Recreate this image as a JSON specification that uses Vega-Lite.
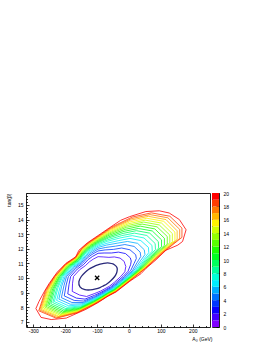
{
"$schema": "https://vega.github.io/schema/vega-lite/v6.json",
"background": "white",
"padding": {"left": 5, "top": 190, "right": 10, "bottom": 2},
"bounds": "flush",
"spacing": 2,
"config": {
 "view": {"stroke": "#222", "strokeWidth": 1},
 "font": "Liberation Sans",
 "axis": {"labelFont": "Liberation Sans", "titleFont": "Liberation Sans", "labelColor": "#000", "titleColor": "#000", "tickColor": "#000", "grid": false, "domain": false, "labelOverlap": false, "labelFontSize": 5, "titleFontSize": 5, "titleFontWeight": "normal", "tickWidth": 0.8, "labelFlush": false}
},
"datasets": {
 "m": [{"x": -100, "y": 10}],
 "bar": [{"k":1,"lo":0,"hi":1},{"k":2,"lo":1,"hi":2},{"k":3,"lo":2,"hi":3},{"k":4,"lo":3,"hi":4},{"k":5,"lo":4,"hi":5},{"k":6,"lo":5,"hi":6},{"k":7,"lo":6,"hi":7},{"k":8,"lo":7,"hi":8},{"k":9,"lo":8,"hi":9},{"k":10,"lo":9,"hi":10},{"k":11,"lo":10,"hi":11},{"k":12,"lo":11,"hi":12},{"k":13,"lo":12,"hi":13},{"k":14,"lo":13,"hi":14},{"k":15,"lo":14,"hi":15},{"k":16,"lo":15,"hi":16},{"k":17,"lo":16,"hi":17},{"k":18,"lo":17,"hi":18},{"k":19,"lo":18,"hi":19},{"k":20,"lo":19,"hi":20}],
 "c": [
{"k":1,"i":0,"x":-44.8,"y":10.10},{"k":1,"i":1,"x":-39.2,"y":10.32},{"k":1,"i":2,"x":-36.8,"y":10.58},{"k":1,"i":2.5,"x":-37.8,"y":10.71},{"k":1,"i":3,"x":-40.7,"y":10.81},{"k":1,"i":4,"x":-50.1,"y":10.96},{"k":1,"i":5,"x":-61.9,"y":11.02},{"k":1,"i":6,"x":-72.9,"y":11.02},{"k":1,"i":7,"x":-86.5,"y":10.97},{"k":1,"i":8,"x":-97.2,"y":10.90},{"k":1,"i":9,"x":-106.1,"y":10.83},{"k":1,"i":10,"x":-114.1,"y":10.74},{"k":1,"i":11,"x":-124.8,"y":10.61},{"k":1,"i":12,"x":-136.4,"y":10.41},{"k":1,"i":13,"x":-149.6,"y":10.10},{"k":1,"i":14,"x":-157.2,"y":9.75},{"k":1,"i":15,"x":-153.7,"y":9.39},{"k":1,"i":16,"x":-138.4,"y":9.20},{"k":1,"i":17,"x":-121.5,"y":9.18},{"k":1,"i":18,"x":-104.1,"y":9.25},{"k":1,"i":19,"x":-91.1,"y":9.34},{"k":1,"i":20,"x":-80.3,"y":9.46},{"k":1,"i":21,"x":-69.6,"y":9.59},{"k":1,"i":22,"x":-58.0,"y":9.79},
{"k":2,"i":0,"x":-26,"y":10.1},{"k":2,"i":1,"x":-13,"y":10.42},{"k":2,"i":2,"x":-10,"y":10.79},{"k":2,"i":2.5,"x":-13,"y":10.97},{"k":2,"i":3,"x":-15,"y":11.13},{"k":2,"i":4,"x":-28,"y":11.36},{"k":2,"i":5,"x":-46,"y":11.44},{"k":2,"i":6,"x":-63,"y":11.41},{"k":2,"i":7,"x":-81,"y":11.44},{"k":2,"i":8,"x":-97,"y":11.46},{"k":2,"i":9,"x":-112,"y":11.29},{"k":2,"i":10,"x":-124,"y":11.11},{"k":2,"i":11,"x":-137,"y":10.84},{"k":2,"i":12,"x":-155,"y":10.56},{"k":2,"i":13,"x":-174,"y":10.1},{"k":2,"i":14,"x":-177,"y":9.64},{"k":2,"i":15,"x":-178,"y":9.08},{"k":2,"i":16,"x":-155,"y":8.83},{"k":2,"i":17,"x":-133,"y":8.73},{"k":2,"i":18,"x":-107,"y":8.94},{"k":2,"i":19,"x":-89,"y":9.10},{"k":2,"i":20,"x":-75,"y":9.27},{"k":2,"i":21,"x":-61,"y":9.44},{"k":2,"i":22,"x":-46,"y":9.70},
{"k":3,"i":0,"x":-19,"y":10.1},{"k":3,"i":1,"x":-3,"y":10.46},{"k":3,"i":2,"x":5,"y":10.91},{"k":3,"i":2.5,"x":7,"y":11.16},{"k":3,"i":3,"x":4,"y":11.38},{"k":3,"i":4,"x":-11,"y":11.67},{"k":3,"i":5,"x":-33,"y":11.77},{"k":3,"i":6,"x":-55,"y":11.71},{"k":3,"i":7,"x":-78,"y":11.71},{"k":3,"i":8,"x":-97,"y":11.69},{"k":3,"i":9,"x":-114,"y":11.48},{"k":3,"i":10,"x":-128,"y":11.26},{"k":3,"i":11,"x":-142,"y":10.93},{"k":3,"i":12,"x":-162,"y":10.61},{"k":3,"i":13,"x":-183,"y":10.1},{"k":3,"i":14,"x":-188,"y":9.57},{"k":3,"i":15,"x":-192,"y":8.91},{"k":3,"i":16,"x":-165,"y":8.62},{"k":3,"i":17,"x":-138,"y":8.55},{"k":3,"i":18,"x":-108,"y":8.81},{"k":3,"i":19,"x":-88,"y":9.01},{"k":3,"i":20,"x":-73,"y":9.20},{"k":3,"i":21,"x":-58,"y":9.38},{"k":3,"i":22,"x":-42,"y":9.66},
{"k":4,"i":0,"x":-14,"y":10.1},{"k":4,"i":1,"x":5,"y":10.49},{"k":4,"i":2,"x":16,"y":11.00},{"k":4,"i":2.5,"x":23,"y":11.33},{"k":4,"i":3,"x":21,"y":11.59},{"k":4,"i":4,"x":3,"y":11.93},{"k":4,"i":5,"x":-23,"y":12.05},{"k":4,"i":6,"x":-48,"y":11.96},{"k":4,"i":7,"x":-75,"y":11.92},{"k":4,"i":8,"x":-97,"y":11.85},{"k":4,"i":9,"x":-116,"y":11.61},{"k":4,"i":10,"x":-131,"y":11.37},{"k":4,"i":11,"x":-146,"y":11.00},{"k":4,"i":12,"x":-167,"y":10.66},{"k":4,"i":13,"x":-190,"y":10.1},{"k":4,"i":14,"x":-197,"y":9.52},{"k":4,"i":15,"x":-203,"y":8.77},{"k":4,"i":16,"x":-172,"y":8.46},{"k":4,"i":17,"x":-142,"y":8.42},{"k":4,"i":18,"x":-108,"y":8.72},{"k":4,"i":19,"x":-88,"y":8.94},{"k":4,"i":20,"x":-72,"y":9.15},{"k":4,"i":21,"x":-56,"y":9.34},{"k":4,"i":22,"x":-38,"y":9.63},
{"k":5,"i":0,"x":-9,"y":10.1},{"k":5,"i":1,"x":11,"y":10.51},{"k":5,"i":2,"x":26,"y":11.08},{"k":5,"i":2.5,"x":37,"y":11.47},{"k":5,"i":3,"x":35,"y":11.77},{"k":5,"i":4,"x":16,"y":12.16},{"k":5,"i":5,"x":-13,"y":12.29},{"k":5,"i":6,"x":-42,"y":12.18},{"k":5,"i":7,"x":-73,"y":12.09},{"k":5,"i":8,"x":-97,"y":11.98},{"k":5,"i":9,"x":-117,"y":11.71},{"k":5,"i":10,"x":-133,"y":11.45},{"k":5,"i":11,"x":-149,"y":11.05},{"k":5,"i":12,"x":-171,"y":10.69},{"k":5,"i":13,"x":-196,"y":10.1},{"k":5,"i":14,"x":-204,"y":9.47},{"k":5,"i":15,"x":-212,"y":8.65},{"k":5,"i":16,"x":-179,"y":8.32},{"k":5,"i":17,"x":-144,"y":8.32},{"k":5,"i":18,"x":-109,"y":8.65},{"k":5,"i":19,"x":-87,"y":8.89},{"k":5,"i":20,"x":-71,"y":9.10},{"k":5,"i":21,"x":-54,"y":9.30},{"k":5,"i":22,"x":-36,"y":9.61},
{"k":6,"i":0,"x":-6,"y":10.1},{"k":6,"i":1,"x":16,"y":10.53},{"k":6,"i":2,"x":35,"y":11.15},{"k":6,"i":2.5,"x":50,"y":11.60},{"k":6,"i":3,"x":48,"y":11.93},{"k":6,"i":4,"x":27,"y":12.37},{"k":6,"i":5,"x":-5,"y":12.50},{"k":6,"i":6,"x":-37,"y":12.38},{"k":6,"i":7,"x":-71,"y":12.25},{"k":6,"i":8,"x":-97,"y":12.09},{"k":6,"i":9,"x":-118,"y":11.80},{"k":6,"i":10,"x":-135,"y":11.52},{"k":6,"i":11,"x":-151,"y":11.09},{"k":6,"i":12,"x":-175,"y":10.72},{"k":6,"i":13,"x":-200,"y":10.1},{"k":6,"i":14,"x":-211,"y":9.44},{"k":6,"i":15,"x":-220,"y":8.55},{"k":6,"i":16,"x":-184,"y":8.20},{"k":6,"i":17,"x":-147,"y":8.23},{"k":6,"i":18,"x":-109,"y":8.59},{"k":6,"i":19,"x":-87,"y":8.84},{"k":6,"i":20,"x":-70,"y":9.07},{"k":6,"i":21,"x":-52,"y":9.27},{"k":6,"i":22,"x":-33,"y":9.59},
{"k":7,"i":0,"x":-3,"y":10.1},{"k":7,"i":1,"x":21,"y":10.55},{"k":7,"i":2,"x":43,"y":11.21},{"k":7,"i":2.5,"x":62,"y":11.73},{"k":7,"i":3,"x":61,"y":12.09},{"k":7,"i":4,"x":37,"y":12.56},{"k":7,"i":5,"x":3,"y":12.71},{"k":7,"i":6,"x":-32,"y":12.56},{"k":7,"i":7,"x":-69,"y":12.38},{"k":7,"i":8,"x":-97,"y":12.18},{"k":7,"i":9,"x":-119,"y":11.88},{"k":7,"i":10,"x":-136,"y":11.58},{"k":7,"i":11,"x":-153,"y":11.13},{"k":7,"i":12,"x":-178,"y":10.74},{"k":7,"i":13,"x":-204,"y":10.1},{"k":7,"i":14,"x":-216,"y":9.40},{"k":7,"i":15,"x":-227,"y":8.46},{"k":7,"i":16,"x":-189,"y":8.09},{"k":7,"i":17,"x":-149,"y":8.16},{"k":7,"i":18,"x":-110,"y":8.53},{"k":7,"i":19,"x":-87,"y":8.80},{"k":7,"i":20,"x":-69,"y":9.04},{"k":7,"i":21,"x":-51,"y":9.25},{"k":7,"i":22,"x":-32,"y":9.58},
{"k":8,"i":0,"x":0,"y":10.1},{"k":8,"i":1,"x":25,"y":10.57},{"k":8,"i":2,"x":50,"y":11.27},{"k":8,"i":2.5,"x":73,"y":11.84},{"k":8,"i":3,"x":72,"y":12.23},{"k":8,"i":4,"x":47,"y":12.74},{"k":8,"i":5,"x":10,"y":12.90},{"k":8,"i":6,"x":-28,"y":12.74},{"k":8,"i":7,"x":-68,"y":12.51},{"k":8,"i":8,"x":-97,"y":12.26},{"k":8,"i":9,"x":-120,"y":11.95},{"k":8,"i":10,"x":-138,"y":11.64},{"k":8,"i":11,"x":-155,"y":11.17},{"k":8,"i":12,"x":-181,"y":10.76},{"k":8,"i":13,"x":-208,"y":10.1},{"k":8,"i":14,"x":-222,"y":9.37},{"k":8,"i":15,"x":-234,"y":8.38},{"k":8,"i":16,"x":-194,"y":7.99},{"k":8,"i":17,"x":-150,"y":8.09},{"k":8,"i":18,"x":-110,"y":8.49},{"k":8,"i":19,"x":-87,"y":8.77},{"k":8,"i":20,"x":-68,"y":9.01},{"k":8,"i":21,"x":-50,"y":9.22},{"k":8,"i":22,"x":-30,"y":9.56},
{"k":9,"i":0,"x":2,"y":10.1},{"k":9,"i":1,"x":28,"y":10.58},{"k":9,"i":2,"x":56,"y":11.32},{"k":9,"i":2.5,"x":83,"y":11.95},{"k":9,"i":3,"x":82,"y":12.36},{"k":9,"i":4,"x":56,"y":12.91},{"k":9,"i":5,"x":17,"y":13.07},{"k":9,"i":6,"x":-23,"y":12.90},{"k":9,"i":7,"x":-66,"y":12.62},{"k":9,"i":8,"x":-97,"y":12.34},{"k":9,"i":9,"x":-121,"y":12.01},{"k":9,"i":10,"x":-139,"y":11.69},{"k":9,"i":11,"x":-157,"y":11.20},{"k":9,"i":12,"x":-183,"y":10.78},{"k":9,"i":13,"x":-211,"y":10.1},{"k":9,"i":14,"x":-226,"y":9.35},{"k":9,"i":15,"x":-239,"y":8.31},{"k":9,"i":16,"x":-198,"y":7.90},{"k":9,"i":17,"x":-152,"y":8.03},{"k":9,"i":18,"x":-111,"y":8.44},{"k":9,"i":19,"x":-86,"y":8.73},{"k":9,"i":20,"x":-68,"y":8.98},{"k":9,"i":21,"x":-49,"y":9.20},{"k":9,"i":22,"x":-28,"y":9.55},
{"k":10,"i":0,"x":5,"y":10.1},{"k":10,"i":1,"x":31,"y":10.59},{"k":10,"i":2,"x":62,"y":11.37},{"k":10,"i":2.5,"x":93,"y":12.05},{"k":10,"i":3,"x":92,"y":12.49},{"k":10,"i":4,"x":65,"y":13.07},{"k":10,"i":5,"x":23,"y":13.24},{"k":10,"i":6,"x":-19,"y":13.05},{"k":10,"i":7,"x":-65,"y":12.73},{"k":10,"i":8,"x":-97,"y":12.41},{"k":10,"i":9,"x":-121,"y":12.07},{"k":10,"i":10,"x":-140,"y":11.73},{"k":10,"i":11,"x":-158,"y":11.22},{"k":10,"i":12,"x":-185,"y":10.80},{"k":10,"i":13,"x":-214,"y":10.1},{"k":10,"i":14,"x":-231,"y":9.32},{"k":10,"i":15,"x":-245,"y":8.24},{"k":10,"i":16,"x":-202,"y":7.82},{"k":10,"i":17,"x":-153,"y":7.97},{"k":10,"i":18,"x":-111,"y":8.41},{"k":10,"i":19,"x":-86,"y":8.70},{"k":10,"i":20,"x":-67,"y":8.96},{"k":10,"i":21,"x":-48,"y":9.19},{"k":10,"i":22,"x":-27,"y":9.54},
{"k":11,"i":0,"x":7,"y":10.1},{"k":11,"i":1,"x":34,"y":10.60},{"k":11,"i":2,"x":68,"y":11.41},{"k":11,"i":2.5,"x":102,"y":12.14},{"k":11,"i":3,"x":102,"y":12.61},{"k":11,"i":4,"x":73,"y":13.22},{"k":11,"i":5,"x":29,"y":13.39},{"k":11,"i":6,"x":-16,"y":13.19},{"k":11,"i":7,"x":-64,"y":12.82},{"k":11,"i":8,"x":-97,"y":12.47},{"k":11,"i":9,"x":-122,"y":12.12},{"k":11,"i":10,"x":-141,"y":11.77},{"k":11,"i":11,"x":-160,"y":11.25},{"k":11,"i":12,"x":-187,"y":10.82},{"k":11,"i":13,"x":-217,"y":10.1},{"k":11,"i":14,"x":-235,"y":9.30},{"k":11,"i":15,"x":-250,"y":8.17},{"k":11,"i":16,"x":-205,"y":7.74},{"k":11,"i":17,"x":-155,"y":7.92},{"k":11,"i":18,"x":-111,"y":8.37},{"k":11,"i":19,"x":-86,"y":8.68},{"k":11,"i":20,"x":-67,"y":8.94},{"k":11,"i":21,"x":-47,"y":9.17},{"k":11,"i":22,"x":-26,"y":9.53},
{"k":12,"i":0,"x":9,"y":10.1},{"k":12,"i":1,"x":37,"y":10.61},{"k":12,"i":2,"x":73,"y":11.45},{"k":12,"i":2.5,"x":111,"y":12.23},{"k":12,"i":3,"x":111,"y":12.72},{"k":12,"i":4,"x":81,"y":13.36},{"k":12,"i":5,"x":35,"y":13.55},{"k":12,"i":6,"x":-12,"y":13.33},{"k":12,"i":7,"x":-63,"y":12.92},{"k":12,"i":8,"x":-97,"y":12.53},{"k":12,"i":9,"x":-123,"y":12.17},{"k":12,"i":10,"x":-142,"y":11.81},{"k":12,"i":11,"x":-161,"y":11.27},{"k":12,"i":12,"x":-189,"y":10.83},{"k":12,"i":13,"x":-219,"y":10.1},{"k":12,"i":14,"x":-239,"y":9.27},{"k":12,"i":15,"x":-255,"y":8.11},{"k":12,"i":16,"x":-209,"y":7.67},{"k":12,"i":17,"x":-156,"y":7.87},{"k":12,"i":18,"x":-111,"y":8.34},{"k":12,"i":19,"x":-86,"y":8.65},{"k":12,"i":20,"x":-66,"y":8.92},{"k":12,"i":21,"x":-46,"y":9.15},{"k":12,"i":22,"x":-24,"y":9.52},
{"k":13,"i":0,"x":11,"y":10.1},{"k":13,"i":1,"x":40,"y":10.62},{"k":13,"i":2,"x":78,"y":11.49},{"k":13,"i":2.5,"x":120,"y":12.32},{"k":13,"i":3,"x":120,"y":12.84},{"k":13,"i":4,"x":88,"y":13.50},{"k":13,"i":5,"x":41,"y":13.69},{"k":13,"i":6,"x":-8,"y":13.47},{"k":13,"i":7,"x":-62,"y":13.01},{"k":13,"i":8,"x":-97,"y":12.59},{"k":13,"i":9,"x":-123,"y":12.21},{"k":13,"i":10,"x":-143,"y":11.85},{"k":13,"i":11,"x":-162,"y":11.30},{"k":13,"i":12,"x":-191,"y":10.85},{"k":13,"i":13,"x":-222,"y":10.1},{"k":13,"i":14,"x":-243,"y":9.25},{"k":13,"i":15,"x":-260,"y":8.05},{"k":13,"i":16,"x":-212,"y":7.60},{"k":13,"i":17,"x":-157,"y":7.83},{"k":13,"i":18,"x":-112,"y":8.31},{"k":13,"i":19,"x":-85,"y":8.63},{"k":13,"i":20,"x":-66,"y":8.90},{"k":13,"i":21,"x":-45,"y":9.14},{"k":13,"i":22,"x":-23,"y":9.51},
{"k":14,"i":0,"x":12,"y":10.1},{"k":14,"i":1,"x":42,"y":10.63},{"k":14,"i":2,"x":83,"y":11.53},{"k":14,"i":2.5,"x":128,"y":12.41},{"k":14,"i":3,"x":128,"y":12.94},{"k":14,"i":4,"x":95,"y":13.63},{"k":14,"i":5,"x":46,"y":13.83},{"k":14,"i":6,"x":-5,"y":13.59},{"k":14,"i":7,"x":-61,"y":13.09},{"k":14,"i":8,"x":-97,"y":12.64},{"k":14,"i":9,"x":-124,"y":12.26},{"k":14,"i":10,"x":-144,"y":11.89},{"k":14,"i":11,"x":-163,"y":11.32},{"k":14,"i":12,"x":-193,"y":10.86},{"k":14,"i":13,"x":-224,"y":10.1},{"k":14,"i":14,"x":-246,"y":9.23},{"k":14,"i":15,"x":-264,"y":8.00},{"k":14,"i":16,"x":-215,"y":7.53},{"k":14,"i":17,"x":-158,"y":7.79},{"k":14,"i":18,"x":-112,"y":8.28},{"k":14,"i":19,"x":-85,"y":8.61},{"k":14,"i":20,"x":-65,"y":8.88},{"k":14,"i":21,"x":-44,"y":9.12},{"k":14,"i":22,"x":-22,"y":9.50},
{"k":15,"i":0,"x":14,"y":10.1},{"k":15,"i":1,"x":44,"y":10.64},{"k":15,"i":2,"x":87,"y":11.57},{"k":15,"i":2.5,"x":136,"y":12.48},{"k":15,"i":3,"x":136,"y":13.04},{"k":15,"i":4,"x":102,"y":13.76},{"k":15,"i":5,"x":51,"y":13.96},{"k":15,"i":6,"x":-2,"y":13.71},{"k":15,"i":7,"x":-60,"y":13.17},{"k":15,"i":8,"x":-97,"y":12.69},{"k":15,"i":9,"x":-124,"y":12.30},{"k":15,"i":10,"x":-145,"y":11.92},{"k":15,"i":11,"x":-164,"y":11.34},{"k":15,"i":12,"x":-195,"y":10.87},{"k":15,"i":13,"x":-226,"y":10.1},{"k":15,"i":14,"x":-250,"y":9.21},{"k":15,"i":15,"x":-268,"y":7.94},{"k":15,"i":16,"x":-218,"y":7.47},{"k":15,"i":17,"x":-159,"y":7.75},{"k":15,"i":18,"x":-112,"y":8.25},{"k":15,"i":19,"x":-85,"y":8.59},{"k":15,"i":20,"x":-65,"y":8.87},{"k":15,"i":21,"x":-44,"y":9.11},{"k":15,"i":22,"x":-21,"y":9.50},
{"k":16,"i":0,"x":16,"y":10.1},{"k":16,"i":1,"x":46,"y":10.65},{"k":16,"i":2,"x":92,"y":11.60},{"k":16,"i":2.5,"x":144,"y":12.56},{"k":16,"i":3,"x":144,"y":13.14},{"k":16,"i":4,"x":109,"y":13.88},{"k":16,"i":5,"x":56,"y":14.09},{"k":16,"i":6,"x":1,"y":13.83},{"k":16,"i":7,"x":-59,"y":13.25},{"k":16,"i":8,"x":-97,"y":12.74},{"k":16,"i":9,"x":-125,"y":12.34},{"k":16,"i":10,"x":-146,"y":11.95},{"k":16,"i":11,"x":-166,"y":11.36},{"k":16,"i":12,"x":-196,"y":10.88},{"k":16,"i":13,"x":-228,"y":10.1},{"k":16,"i":14,"x":-253,"y":9.19},{"k":16,"i":15,"x":-272,"y":7.89},{"k":16,"i":16,"x":-221,"y":7.40},{"k":16,"i":17,"x":-160,"y":7.71},{"k":16,"i":18,"x":-112,"y":8.22},{"k":16,"i":19,"x":-85,"y":8.57},{"k":16,"i":20,"x":-64,"y":8.85},{"k":16,"i":21,"x":-43,"y":9.10},{"k":16,"i":22,"x":-20,"y":9.49},
{"k":17,"i":0,"x":17,"y":10.1},{"k":17,"i":1,"x":49,"y":10.66},{"k":17,"i":2,"x":96,"y":11.64},{"k":17,"i":2.5,"x":151,"y":12.64},{"k":17,"i":3,"x":151,"y":13.23},{"k":17,"i":4,"x":116,"y":14.00},{"k":17,"i":5,"x":61,"y":14.22},{"k":17,"i":6,"x":4,"y":13.95},{"k":17,"i":7,"x":-58,"y":13.33},{"k":17,"i":8,"x":-97,"y":12.78},{"k":17,"i":9,"x":-125,"y":12.37},{"k":17,"i":10,"x":-147,"y":11.98},{"k":17,"i":11,"x":-166,"y":11.38},{"k":17,"i":12,"x":-198,"y":10.90},{"k":17,"i":13,"x":-230,"y":10.1},{"k":17,"i":14,"x":-256,"y":9.17},{"k":17,"i":15,"x":-276,"y":7.84},{"k":17,"i":16,"x":-223,"y":7.35},{"k":17,"i":17,"x":-161,"y":7.68},{"k":17,"i":18,"x":-113,"y":8.20},{"k":17,"i":19,"x":-85,"y":8.55},{"k":17,"i":20,"x":-64,"y":8.84},{"k":17,"i":21,"x":-42,"y":9.09},{"k":17,"i":22,"x":-19,"y":9.48},
{"k":18,"i":0,"x":18,"y":10.1},{"k":18,"i":1,"x":51,"y":10.67},{"k":18,"i":2,"x":100,"y":11.67},{"k":18,"i":2.5,"x":159,"y":12.71},{"k":18,"i":3,"x":159,"y":13.33},{"k":18,"i":4,"x":122,"y":14.12},{"k":18,"i":5,"x":66,"y":14.34},{"k":18,"i":6,"x":7,"y":14.06},{"k":18,"i":7,"x":-57,"y":13.40},{"k":18,"i":8,"x":-97,"y":12.82},{"k":18,"i":9,"x":-125,"y":12.41},{"k":18,"i":10,"x":-148,"y":12.01},{"k":18,"i":11,"x":-167,"y":11.39},{"k":18,"i":12,"x":-199,"y":10.91},{"k":18,"i":13,"x":-232,"y":10.1},{"k":18,"i":14,"x":-259,"y":9.15},{"k":18,"i":15,"x":-280,"y":7.80},{"k":18,"i":16,"x":-226,"y":7.29},{"k":18,"i":17,"x":-162,"y":7.64},{"k":18,"i":18,"x":-113,"y":8.17},{"k":18,"i":19,"x":-85,"y":8.53},{"k":18,"i":20,"x":-63,"y":8.82},{"k":18,"i":21,"x":-42,"y":9.07},{"k":18,"i":22,"x":-18,"y":9.47},
{"k":19,"i":0,"x":20,"y":10.1},{"k":19,"i":1,"x":52,"y":10.67},{"k":19,"i":2,"x":104,"y":11.70},{"k":19,"i":2.5,"x":166,"y":12.78},{"k":19,"i":3,"x":166,"y":13.42},{"k":19,"i":4,"x":128,"y":14.23},{"k":19,"i":5,"x":70,"y":14.46},{"k":19,"i":6,"x":10,"y":14.17},{"k":19,"i":7,"x":-56,"y":13.47},{"k":19,"i":8,"x":-97,"y":12.86},{"k":19,"i":9,"x":-126,"y":12.44},{"k":19,"i":10,"x":-148,"y":12.03},{"k":19,"i":11,"x":-168,"y":11.41},{"k":19,"i":12,"x":-200,"y":10.92},{"k":19,"i":13,"x":-234,"y":10.1},{"k":19,"i":14,"x":-262,"y":9.14},{"k":19,"i":15,"x":-283,"y":7.75},{"k":19,"i":16,"x":-228,"y":7.24},{"k":19,"i":17,"x":-163,"y":7.61},{"k":19,"i":18,"x":-113,"y":8.15},{"k":19,"i":19,"x":-84,"y":8.51},{"k":19,"i":20,"x":-63,"y":8.81},{"k":19,"i":21,"x":-41,"y":9.06},{"k":19,"i":22,"x":-17,"y":9.47},
{"k":20,"i":0,"x":-292,"y":7.9},{"k":20,"i":1,"x":-282,"y":8.4},{"k":20,"i":2,"x":-266,"y":9.05},{"k":20,"i":3,"x":-251,"y":9.6},{"k":20,"i":4,"x":-225,"y":10.4},{"k":20,"i":5,"x":-198,"y":11.0},{"k":20,"i":6,"x":-167,"y":11.45},{"k":20,"i":7,"x":-157,"y":11.9},{"k":20,"i":8,"x":-131,"y":12.4},{"k":20,"i":9,"x":-94,"y":12.95},{"k":20,"i":10,"x":-57,"y":13.5},{"k":20,"i":11,"x":-26,"y":13.95},{"k":20,"i":12,"x":2,"y":14.2},{"k":20,"i":13,"x":53,"y":14.55},{"k":20,"i":14,"x":95,"y":14.6},{"k":20,"i":15,"x":126,"y":14.45},{"k":20,"i":16,"x":158,"y":14.0},{"k":20,"i":17,"x":179,"y":13.3},{"k":20,"i":18,"x":168,"y":12.5},{"k":20,"i":19,"x":153,"y":12.25},{"k":20,"i":20,"x":116,"y":11.9},{"k":20,"i":21,"x":85,"y":11.25},{"k":20,"i":22,"x":53,"y":10.65},{"k":20,"i":23,"x":38,"y":10.3},{"k":20,"i":24,"x":1,"y":9.75},{"k":20,"i":25,"x":-40,"y":9.05},{"k":20,"i":26,"x":-70,"y":8.7},{"k":20,"i":27,"x":-98,"y":8.3},{"k":20,"i":28,"x":-135,"y":7.85},{"k":20,"i":29,"x":-166,"y":7.55},{"k":20,"i":30,"x":-197,"y":7.25},{"k":20,"i":31,"x":-244,"y":7.15},{"k":20,"i":32,"x":-276,"y":7.3}
 ]
},
"resolve": {"scale": {"y": "independent", "color": "shared"}},
"hconcat": [
 {
  "width": 184, "height": 134,
  "layer": [
   {
    "data": {"name": "c"},
    "transform": [{"filter": "datum.k > 1"}],
    "mark": {"type": "line", "interpolate": "linear-closed", "strokeWidth": 0.8},
    "encoding": {
     "x": {"field": "x", "type": "quantitative", "scale": {"domain": [-323, 254], "nice": false, "zero": false},
       "axis": {"values": [-320,-300,-280,-260,-240,-220,-200,-180,-160,-140,-120,-100,-80,-60,-40,-20,0,20,40,60,80,100,120,140,160,180,200,220,240],
        "tickCount": 1000,
        "labelExpr": "datum.value % 100 === 0 ? '' + datum.value : ''",
        "labelOverlap": false, "labelBound": false,
        "tickSize": {"condition": {"test": "datum.value % 100 === 0", "value": -3}, "value": -1.5},
        "labelPadding": 4, "title": "A₀ (GeV)", "titleAnchor": "end", "titleAlign": "right", "titleX": 186, "titlePadding": 2}},
     "y": {"field": "y", "type": "quantitative", "scale": {"domain": [6.64, 15.82], "nice": false, "zero": false},
       "axis": {"values": [6.8,7,7.2,7.4,7.6,7.8,8,8.2,8.4,8.6,8.8,9,9.2,9.4,9.6,9.8,10,10.2,10.4,10.6,10.8,11,11.2,11.4,11.6,11.8,12,12.2,12.4,12.6,12.8,13,13.2,13.4,13.6,13.8,14,14.2,14.4,14.6,14.8,15,15.2,15.4,15.6,15.8],
        "tickCount": 1000,
        "labelExpr": "abs(datum.value - round(datum.value)) < 0.01 ? '' + round(datum.value) : ''",
        "labelOverlap": false, "labelBound": false,
        "tickSize": {"condition": {"test": "abs(datum.value - round(datum.value)) < 0.01", "value": -3}, "value": -1.5},
        "labelPadding": 6, "title": "tan(β)", "titleAnchor": "end", "titlePadding": 6}},
     "color": {"field": "k", "type": "ordinal", "scale": {"domain": [1,2,3,4,5,6,7,8,9,10,11,12,13,14,15,16,17,18,19,20], "range": ["#8000ff","#4300ff","#0a00ff","#0036ff","#0072ff","#00aeff","#00ebff","#00ffd7","#00ff9b","#00ff5e","#00ff22","#1aff00","#57ff00","#93ff00","#cfff00","#fff200","#ffb600","#ff7a00","#ff3d00","#ff0000"]}, "legend": null},
     "detail": {"field": "k"},
     "order": {"field": "i", "type": "quantitative"}
    }
   },
   {
    "data": {"name": "c"},
    "transform": [{"filter": "datum.k == 1"}],
    "mark": {"type": "line", "interpolate": "cardinal-closed", "strokeWidth": 1.3, "color": "#28287a"},
    "encoding": {
     "x": {"field": "x", "type": "quantitative"},
     "y": {"field": "y", "type": "quantitative"},
     "order": {"field": "i", "type": "quantitative"}
    }
   },
   {
    "data": {"name": "m"},
    "mark": {"type": "point", "shape": "M-1,-1L1,1M-1,1L1,-1", "filled": false, "stroke": "#000", "strokeWidth": 1.3, "size": 18, "opacity": 1},
    "encoding": {
     "x": {"field": "x", "type": "quantitative"},
     "y": {"field": "y", "type": "quantitative"}
    }
   }
  ]
 },
 {
  "width": 7, "height": 134,
  "data": {"name": "bar"},
  "mark": {"type": "rect"},
  "encoding": {
   "y": {"field": "lo", "type": "quantitative", "scale": {"domain": [0, 20], "nice": false, "zero": false},
     "axis": {"orient": "right", "values": [0,2,4,6,8,10,12,14,16,18,20], "format": "d", "tickSize": -3, "labelPadding": 7, "title": null, "labelOverlap": false}},
   "y2": {"field": "hi"},
   "color": {"field": "k", "type": "ordinal", "legend": null}
  }
 }
]
}
